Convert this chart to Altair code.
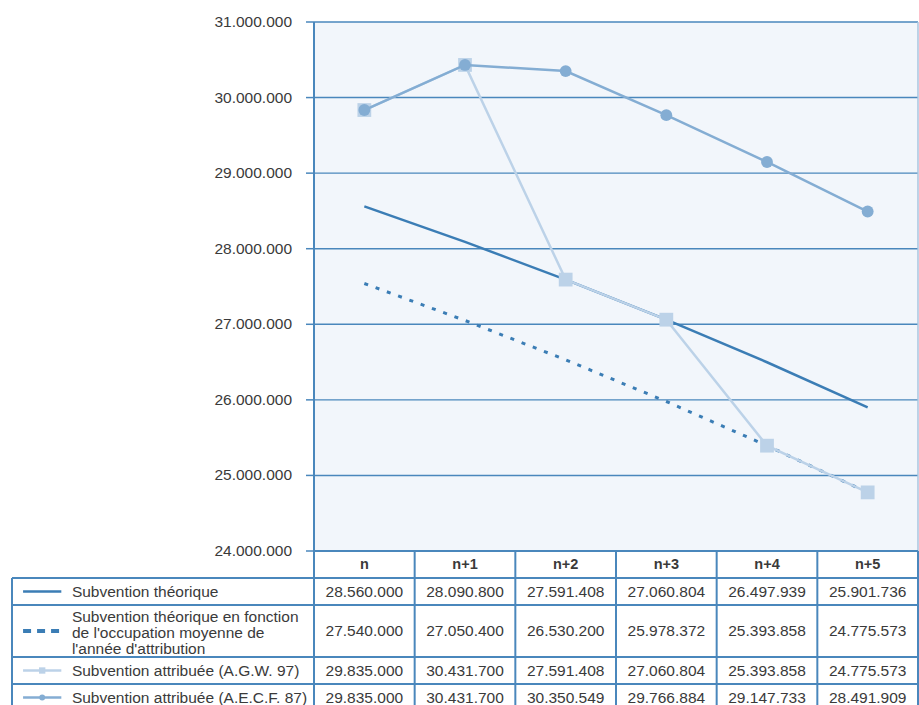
import altair as alt
import pandas as pd

# ---------------- data ----------------
periods = ["n", "n+1", "n+2", "n+3", "n+4", "n+5"]
subv_theorique = [28560000, 28090800, 27591408, 27060804, 26497939, 25901736]
subv_occupation = [27540000, 27050400, 26530200, 25978372, 25393858, 24775573]
subv_agw97 = [29835000, 30431700, 27591408, 27060804, 25393858, 24775573]
subv_aecf87 = [29835000, 30431700, 30350549, 29766884, 29147733, 28491909]
series_labels = [
    "Subvention théorique",
    "Subvention théorique en fonction\nde l'occupation moyenne de\nl'année d'attribution",
    "Subvention attribuée (A.G.W. 97)",
    "Subvention attribuée (A.E.C.F. 87)",
]
y_ticks = [24000000, 25000000, 26000000, 27000000, 28000000, 29000000, 30000000, 31000000]

# ---------------- layout / style ----------------
W, H = 906, 683          # drawing area (page minus padding)
PLOT_H = 529             # height of the line-plot part
TABLE_H = H - PLOT_H     # visible height of the data table
ROW_EDGES = [0, 27, 54, 106, 133, 160]   # header, 4 series rows (px below plot)
LEG_COLS = 3             # legend column width, in data-column units
LINE_H = 16
FONT = "Liberation Sans"
TXT = "#3a3a3a"
GRID = "#4a87bc"
BG = "#f2f6fb"
C_THEO = "#3b7db5"
C_AGW = "#bcd2e8"
C_AECF = "#84add3"

ncol = len(periods)
UNIT = W / (LEG_COLS + ncol)          # px per data column
TICK_LEN = 8 / UNIT
LABEL_X = -(8 + 14) / UNIT

xs = alt.Scale(domain=[-LEG_COLS, ncol], nice=False, zero=False)
ys = alt.Scale(domain=[min(y_ticks), max(y_ticks)], range=[PLOT_H, 0], nice=False, zero=False)
ts = alt.Scale(domain=[0, TABLE_H], range=[PLOT_H, H], nice=False, zero=False)

series_values = [subv_theorique, subv_occupation, subv_agw97, subv_aecf87]
rows = []
for s, (lab, vals) in enumerate(zip(series_labels, series_values)):
    for i, (p, v) in enumerate(zip(periods, vals)):
        rows.append({
            "series": s, "label": lab, "period": p, "col": i + 0.5, "value": v,
            "rowy": (ROW_EDGES[s + 1] + ROW_EDGES[s + 2]) / 2,
        })
df = pd.DataFrame(rows)

leg_rowy = [(ROW_EDGES[s + 1] + ROW_EDGES[s + 2]) / 2 for s in range(len(series_labels))]
leg = pd.DataFrame({
    "series": list(range(len(series_labels))),
    "label": series_labels,
    "rowy": leg_rowy,
    "texty": [y - (lab.count("\n")) * LINE_H / 2 + (2 if "\n" in lab else 0)
              for y, lab in zip(leg_rowy, series_labels)],
})


def X(f):
    return alt.X(f, scale=xs, axis=None)


def YV(f):
    return alt.Y(f, scale=ys, axis=None)


def TY(f):
    return alt.Y(f, scale=ts, axis=None)


# ---------------- plot part ----------------
bg = alt.Chart(pd.DataFrame({"x0": [0], "x1": [ncol], "y0": [min(y_ticks)], "y1": [max(y_ticks)]})).mark_rect(
    color=BG).encode(x=X("x0:Q"), x2="x1:Q", y=YV("y0:Q"), y2="y1:Q")

tick_df = pd.DataFrame({"tick": y_ticks, "x0": 0, "x1": ncol, "xt": -TICK_LEN, "xl": LABEL_X})

grid = alt.Chart(tick_df).mark_rule(color=GRID, strokeWidth=1.4).encode(
    x=X("x0:Q"), x2="x1:Q", y=YV("tick:Q"))
ticks = alt.Chart(tick_df).mark_rule(color=GRID, strokeWidth=1.5).encode(
    x=X("xt:Q"), x2="x0:Q", y=YV("tick:Q"))
tick_labels = alt.Chart(tick_df).mark_text(
    font=FONT, fontSize=15.5, color=TXT, align="right", baseline="middle").encode(
    x=X("xl:Q"), y=YV("tick:Q"), text=alt.Text("tick:Q", format=",d"))

borders = pd.DataFrame({"x": [0, ncol], "y0": min(y_ticks), "y1": max(y_ticks),
                        "c": ["left", "right"]})
left_border = alt.Chart(borders).transform_filter(alt.datum.c == "left").mark_rule(
    color=GRID, strokeWidth=2).encode(x=X("x:Q"), y=YV("y0:Q"), y2="y1:Q")
right_border = alt.Chart(borders).transform_filter(alt.datum.c == "right").mark_rule(
    color="#a9c5df", strokeWidth=1.5).encode(x=X("x:Q"), y=YV("y0:Q"), y2="y1:Q")


def line(s, color, width, dash=None):
    kw = dict(color=color, strokeWidth=width)
    if dash:
        kw["strokeDash"] = dash
    return alt.Chart(df).transform_filter(alt.datum.series == s).mark_line(**kw).encode(
        x=X("col:Q"), y=YV("value:Q"), order="col:Q")


def pts(s, color, shape, size):
    return alt.Chart(df).transform_filter(alt.datum.series == s).mark_point(
        filled=True, opacity=1, color=color, shape=shape, size=size).encode(
        x=X("col:Q"), y=YV("value:Q"))


plot = alt.layer(
    bg, grid, ticks, tick_labels, left_border, right_border,
    line(0, C_THEO, 2.5),
    line(1, C_THEO, 3, [4, 8]),
    line(2, C_AGW, 2.5), pts(2, C_AGW, "square", 190),
    line(3, C_AECF, 2.5), pts(3, C_AECF, "circle", 140),
)

# ---------------- table part ----------------
hl = pd.DataFrame({
    "y": ROW_EDGES[:-1],
    "x0": [0] + [-LEG_COLS] * (len(ROW_EDGES) - 2),
    "x1": ncol,
})
vl = pd.DataFrame({
    "x": [-LEG_COLS] + list(range(ncol + 1)),
    "y0": [ROW_EDGES[1]] + [0] * (ncol + 1),
    "y1": TABLE_H,
})

hlines = alt.Chart(hl).mark_rule(color=GRID, strokeWidth=2).encode(x=X("x0:Q"), x2="x1:Q", y=TY("y:Q"))
vlines = alt.Chart(vl).mark_rule(color=GRID, strokeWidth=2).encode(x=X("x:Q"), y=TY("y0:Q"), y2="y1:Q")

hdr = alt.Chart(pd.DataFrame({"period": periods, "col": [i + 0.5 for i in range(ncol)],
                              "y": (ROW_EDGES[0] + ROW_EDGES[1]) / 2})).mark_text(
    font=FONT, fontSize=14.5, fontWeight="bold", color=TXT, baseline="middle").encode(
    x=X("col:Q"), y=TY("y:Q"), text="period:N")

vals = alt.Chart(df).mark_text(font=FONT, fontSize=15.5, color=TXT, baseline="middle").encode(
    x=X("col:Q"), y=TY("rowy:Q"), text=alt.Text("value:Q", format=",d"))

LEG_X0, LEG_X1, LEG_MID, LEG_TXT = -2.89, -2.51, -2.70, -2.405

leg_text = alt.Chart(leg).mark_text(font=FONT, fontSize=15.5, color=TXT, align="left",
                                    baseline="middle", lineBreak="\n", lineHeight=LINE_H).encode(
    x=alt.X(datum=LEG_TXT, scale=xs, axis=None), y=TY("texty:Q"), text="label:N")


def leg_line(s, color, width, dash=None):
    kw = dict(color=color, strokeWidth=width)
    if dash:
        kw["strokeDash"] = dash
    return alt.Chart(leg).transform_filter(alt.datum.series == s).mark_rule(**kw).encode(
        x=alt.X(datum=LEG_X0, scale=xs, axis=None), x2=alt.X2(datum=LEG_X1), y=TY("rowy:Q"))


def leg_pt(s, color, shape, size):
    return alt.Chart(leg).transform_filter(alt.datum.series == s).mark_point(
        filled=True, opacity=1, color=color, shape=shape, size=size).encode(
        x=alt.X(datum=LEG_MID, scale=xs, axis=None), y=TY("rowy:Q"))


table = alt.layer(
    hlines, vlines, hdr, vals, leg_text,
    leg_line(0, C_THEO, 2.5),
    leg_line(1, C_THEO, 4, [8, 6]),
    leg_line(2, C_AGW, 2.5), leg_pt(2, C_AGW, "square", 40),
    leg_line(3, C_AECF, 2.5), leg_pt(3, C_AECF, "circle", 35),
)

chart = alt.layer(plot, table).resolve_scale(y="independent").properties(
    width=W, height=H,
    autosize=alt.AutoSizeParams(type="none"),
    padding={"left": 12, "top": 22, "right": 1, "bottom": 0},
).configure(
    view={"stroke": None},
    locale={"number": {"decimal": ",", "thousands": ".", "grouping": [3], "currency": ["", " €"]}},
)

chart.save("out.html", embed_options={"renderer": "svg", "actions": False})
